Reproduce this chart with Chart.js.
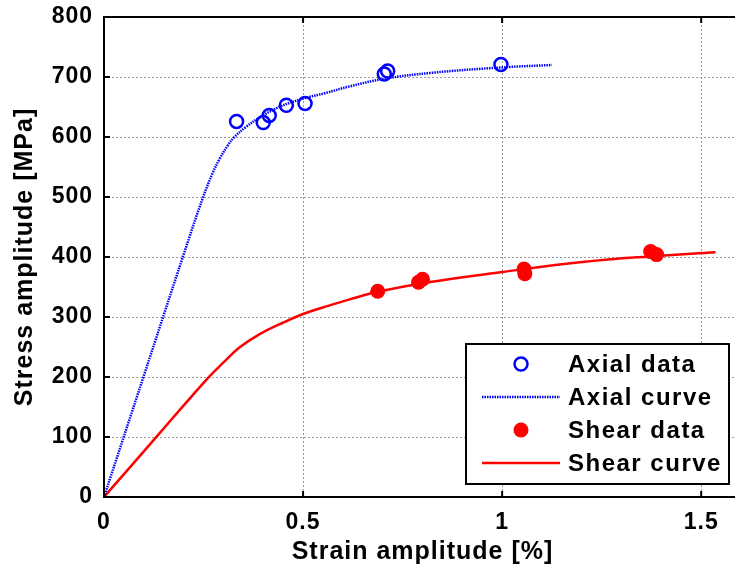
<!DOCTYPE html>
<html>
<head>
<meta charset="utf-8">
<script src="https://cdn.jsdelivr.net/npm/chart.js@4.4.1/dist/chart.umd.min.js"></script>
<style>
  html, body { margin: 0; padding: 0; background: #fff; overflow: hidden; }
  #wrap { width: 735px; height: 573px; overflow: hidden; position: relative; }
  #box { width: 750px; height: 573px; }
</style>
</head>
<body>
<div id="wrap"><div id="box"><canvas id="c"></canvas></div></div>
<script>
// Measured axial test points: strain amplitude [%], stress amplitude [MPa]
const axialDataStrain = [0.333, 0.400, 0.415, 0.458, 0.505, 0.704, 0.7125, 0.997];
const axialDataStress = [626, 624, 636, 653, 656, 705, 710, 721];

// Fitted axial cyclic curve
const axialCurveStrain = [0, 0.1, 0.2, 0.248, 0.273, 0.29, 0.311, 0.3275, 0.357, 0.39, 0.44, 0.5, 0.555, 0.615, 0.704, 0.823, 1.0, 1.125];
const axialCurveStress = [0, 202, 404, 498, 540, 563, 586, 600, 617, 632, 650, 664, 673, 684, 697, 707, 716, 720];

// Measured shear test points
const shearDataStrain = [0.6875, 0.79, 0.80, 1.055, 1.057, 1.373, 1.388];
const shearDataStress = [343, 358, 363, 380, 372, 409, 404];

// Fitted shear cyclic curve
const shearCurveStrain = [0, 0.13, 0.198, 0.265, 0.298, 0.34, 0.39, 0.448, 0.5, 0.565, 0.615, 0.6875, 0.815, 1.0, 1.207, 1.37, 1.536];
const shearCurveStress = [0, 99, 151, 201, 223, 249, 271, 290, 305, 319, 329, 342, 358, 375, 392, 401, 408];

const seriesLabels = ['Axial data', 'Axial curve', 'Shear data', 'Shear curve'];
const xTitle = 'Strain amplitude [%]';
const yTitle = 'Stress amplitude [MPa]';

const toXY = (xs, ys) => xs.map((v, i) => ({ x: v, y: ys[i] }));

const FONT = "'Liberation Sans', Arial, sans-serif";
const BLUE = '#0000ff';
const RED = '#ff0000';

// Slightly wide lettering for all chart text
const spacingPlugin = {
  id: 'spacing',
  beforeDraw(chart) { chart.ctx.letterSpacing = '1px'; }
};

// Inward tick marks, boxed frame and the in-plot legend
const framePlugin = {
  id: 'frame',
  afterDraw(chart) {
    const { ctx, chartArea: a, scales: { x, y } } = chart;
    ctx.save();
    ctx.strokeStyle = '#000';
    ctx.lineWidth = 2;
    ctx.setLineDash([]);
    ctx.beginPath();
    x.ticks.forEach(t => {
      const px = x.getPixelForValue(t.value);
      ctx.moveTo(px, a.bottom); ctx.lineTo(px, a.bottom - 6);
      ctx.moveTo(px, a.top); ctx.lineTo(px, a.top + 6);
    });
    y.ticks.forEach(t => {
      const py = y.getPixelForValue(t.value);
      ctx.moveTo(a.left, py); ctx.lineTo(a.left + 6, py);
      ctx.moveTo(a.right, py); ctx.lineTo(a.right - 6, py);
    });
    ctx.stroke();
    ctx.strokeRect(a.left, a.top, a.right - a.left, a.bottom - a.top);

    // legend box
    const bw = 263, bh = 140;
    const bx = a.right - 12 - bw, by = a.bottom - 13 - bh;
    ctx.fillStyle = '#fff';
    ctx.fillRect(bx, by, bw, bh);
    ctx.lineWidth = 2;
    ctx.strokeRect(bx, by, bw, bh);
    const ds = chart.data.datasets;
    ctx.font = 'bold 24px ' + FONT;
    ctx.letterSpacing = '1.5px';
    ctx.textBaseline = 'middle';
    ctx.textAlign = 'left';
    ds.forEach((d, i) => {
      const cy = by + 20 + i * 33;
      const sx = bx + 55;
      if (d.showLine) {
        ctx.save();
        ctx.strokeStyle = d.borderColor;
        ctx.lineWidth = d.borderWidth;
        ctx.setLineDash(d.borderDash || []);
        ctx.beginPath();
        ctx.moveTo(bx + 16, cy); ctx.lineTo(bx + 94, cy);
        ctx.stroke();
        ctx.restore();
      } else {
        ctx.save();
        ctx.beginPath();
        ctx.arc(sx, cy, d.pointRadius, 0, Math.PI * 2);
        if (d.pointBackgroundColor !== 'rgba(0,0,0,0)') {
          ctx.fillStyle = d.pointBackgroundColor;
          ctx.fill();
        }
        if (d.pointBorderWidth > 0) {
          ctx.strokeStyle = d.pointBorderColor;
          ctx.lineWidth = d.pointBorderWidth;
          ctx.stroke();
        }
        ctx.restore();
      }
      ctx.fillStyle = '#000';
      ctx.fillText(d.label, bx + 102, cy + 1);
    });
    ctx.restore();
  }
};

new Chart(document.getElementById('c'), {
  type: 'scatter',
  data: {
    datasets: [
      {
        label: seriesLabels[0],
        data: toXY(axialDataStrain, axialDataStress),
        showLine: false,
        pointRadius: 6.5,
        pointBorderWidth: 2.5,
        pointBorderColor: BLUE,
        pointBackgroundColor: 'rgba(0,0,0,0)',
        order: 0
      },
      {
        label: seriesLabels[1],
        data: toXY(axialCurveStrain, axialCurveStress),
        showLine: true,
        borderColor: BLUE,
        borderWidth: 2.5,
        borderDash: [1.5, 1],
        pointRadius: 0,
        tension: 0.4,
        order: 1
      },
      {
        label: seriesLabels[2],
        data: toXY(shearDataStrain, shearDataStress),
        showLine: false,
        pointRadius: 7.5,
        pointBorderWidth: 0,
        pointBorderColor: RED,
        pointBackgroundColor: RED,
        order: 0
      },
      {
        label: seriesLabels[3],
        data: toXY(shearCurveStrain, shearCurveStress),
        showLine: true,
        borderColor: RED,
        borderWidth: 2.5,
        pointRadius: 0,
        tension: 0.4,
        order: 1
      }
    ]
  },
  options: {
    responsive: true,
    maintainAspectRatio: false,
    animation: false,
    layout: { padding: { left: 0, top: 17, right: 7, bottom: 0 } },
    plugins: { legend: { display: false }, tooltip: { enabled: false } },
    scales: {
      x: {
        type: 'linear',
        min: 0,
        max: 1.6,
        afterFit: s => { s.height = 76; s.paddingLeft = 0; s.paddingRight = 0; },
        ticks: {
          stepSize: 0.5,
          includeBounds: false,
          padding: 12,
          color: '#000',
          font: { family: FONT, size: 23, weight: 'bold' },
          callback: v => String(v)
        },
        grid: { color: '#9a9a9a', lineWidth: 1, drawTicks: false },
        border: { display: false, dash: [2, 2] },
        title: {
          display: true,
          text: xTitle,
          color: '#000',
          font: { family: FONT, size: 25, weight: 'bold' },
          padding: { top: 0, bottom: 6 }
        }
      },
      y: {
        type: 'linear',
        min: 0,
        max: 800,
        afterFit: s => { s.width = 104; s.paddingTop = 0; s.paddingBottom = 0; },
        ticks: {
          stepSize: 100,
          padding: 11,
          color: '#000',
          font: { family: FONT, size: 23, weight: 'bold' }
        },
        grid: { color: '#9a9a9a', lineWidth: 1, drawTicks: false },
        border: { display: false, dash: [2, 2] },
        title: {
          display: true,
          text: yTitle,
          color: '#000',
          font: { family: FONT, size: 25, weight: 'bold' },
          padding: { top: 10, bottom: 0 }
        }
      }
    }
  },
  plugins: [spacingPlugin, framePlugin]
});
</script>
</body>
</html>
